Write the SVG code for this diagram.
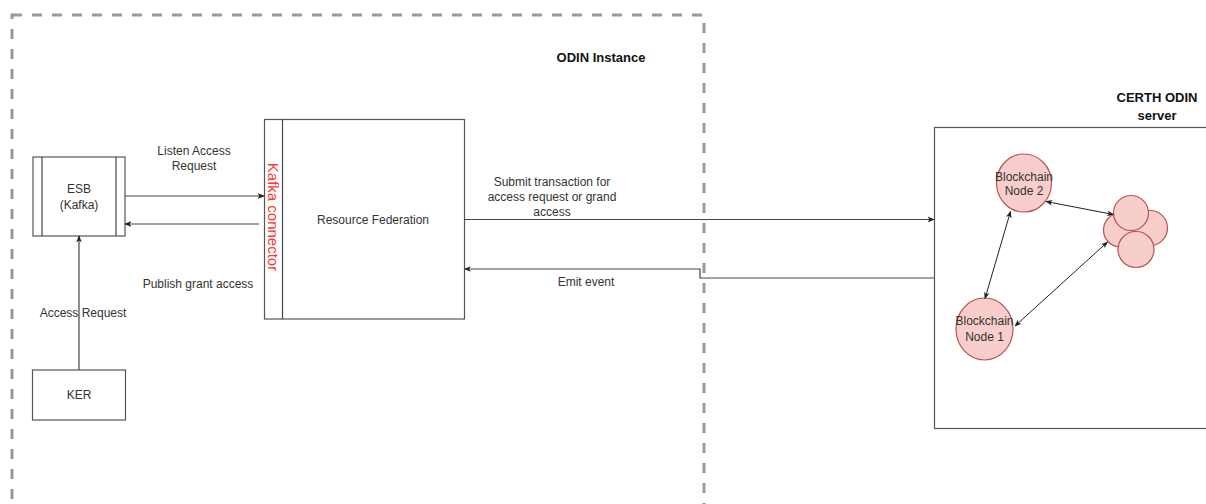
<svg xmlns="http://www.w3.org/2000/svg" width="1206" height="504" viewBox="0 0 1206 504">
  <defs>
    <marker id="arrow" viewBox="0 0 10 10" refX="9" refY="5" markerWidth="7" markerHeight="7" orient="auto-start-reverse" markerUnits="userSpaceOnUse">
      <path d="M0,1 L10,5 L0,9 L2.5,5 Z" fill="#222"/>
    </marker>
  </defs>
  <style>
    .bg { fill: #ffffff; }
    .box { fill: #ffffff; stroke: #555; stroke-width: 1.2; }
    .line { fill: none; stroke: #444; stroke-width: 1.2; }
    .link { fill: none; stroke: #222; stroke-width: 1; }
    .frame { fill: none; stroke: #999; stroke-width: 3; stroke-dasharray: 10 10; }
    .node { fill: #f8cecc; stroke: #b85450; stroke-width: 1.2; }
    .t { font-family: "Liberation Sans", Arial, sans-serif; font-size: 12px; fill: #333; text-anchor: middle; }
    .tb { font-family: "Liberation Sans", Arial, sans-serif; font-size: 13px; font-weight: bold; fill: #111; text-anchor: middle; }
    .red { font-family: "Liberation Sans", Arial, sans-serif; font-size: 15px; fill: #ff3333; text-anchor: middle; }
  </style>

  <rect class="bg" x="0" y="0" width="1206" height="504"/>

  <!-- ODIN instance boundary -->
  <g id="odin-instance">
    <rect class="frame" x="12" y="15" width="692" height="530"/>
    <text class="tb" x="601" y="62">ODIN Instance</text>
  </g>

  <!-- CERTH server -->
  <g id="certh-server">
    <rect class="box" x="934.5" y="127.5" width="290" height="301"/>
    <text class="tb" x="1157" y="102">CERTH ODIN</text>
    <text class="tb" x="1157" y="120">server</text>
  </g>

  <g id="esb">
    <rect class="box" x="33" y="157" width="92" height="79"/>
    <line class="line" x1="42" y1="157" x2="42" y2="236"/>
    <line class="line" x1="116" y1="157" x2="116" y2="236"/>
    <text class="t" x="79" y="193">ESB</text>
    <text class="t" x="79" y="209">(Kafka)</text>
  </g>

  <g id="ker">
    <rect class="box" x="32.5" y="370" width="93" height="50"/>
    <text class="t" x="79" y="399">KER</text>
  </g>

  <g id="resource-federation">
    <rect class="box" x="264.5" y="119.5" width="200" height="199.5"/>
    <line class="line" x1="282.5" y1="119.5" x2="282.5" y2="319"/>
    <text class="red" transform="translate(268 217) rotate(90)">Kafka connector</text>
    <text class="t" x="373" y="224">Resource Federation</text>
  </g>

  <g id="blockchain-node-2">
    <ellipse class="node" cx="1024" cy="183" rx="27.5" ry="29"/>
    <text class="t" x="1024" y="181">Blockchain</text>
    <text class="t" x="1024" y="195">Node 2</text>
  </g>

  <g id="blockchain-node-1">
    <ellipse class="node" cx="984.5" cy="329" rx="28.5" ry="31"/>
    <text class="t" x="984.5" y="325">Blockchain</text>
    <text class="t" x="984.5" y="341">Node 1</text>
  </g>

  <g id="blockchain-cluster">
    <circle class="node" cx="1120.5" cy="230" r="17"/>
    <circle class="node" cx="1150" cy="228" r="17.5"/>
    <circle class="node" cx="1131" cy="213" r="17.5"/>
    <circle class="node" cx="1136" cy="249.5" r="18"/>
  </g>

  <g id="connectors">
    <!-- ESB <-> Kafka connector -->
    <line class="line" x1="125" y1="196" x2="264" y2="196" marker-end="url(#arrow)"/>
    <line class="line" x1="259" y1="224" x2="125" y2="224" marker-end="url(#arrow)"/>
    <text class="t" x="194" y="155">Listen Access</text>
    <text class="t" x="194" y="170">Request</text>
    <text class="t" x="198" y="288">Publish grant access</text>

    <!-- KER -> ESB -->
    <line class="line" x1="79" y1="370" x2="79" y2="236" marker-end="url(#arrow)"/>
    <text class="t" x="83" y="317">Access Request</text>

    <!-- Resource Federation <-> CERTH -->
    <line class="line" x1="464.5" y1="219.5" x2="934" y2="219.5" marker-end="url(#arrow)"/>
    <text class="t" x="552" y="186">Submit transaction for</text>
    <text class="t" x="552" y="201">access request or grand</text>
    <text class="t" x="552" y="216">access</text>
    <path class="line" d="M934 278 H700 V269 H464.5" marker-end="url(#arrow)"/>
    <text class="t" x="586" y="286">Emit event</text>

    <!-- Blockchain peer links -->
    <line class="link" x1="1046" y1="201.5" x2="1113.5" y2="214.5" marker-start="url(#arrow)" marker-end="url(#arrow)"/>
    <line class="link" x1="1010.5" y1="211.5" x2="985" y2="298.5" marker-start="url(#arrow)" marker-end="url(#arrow)"/>
    <line class="link" x1="1015" y1="326" x2="1107.5" y2="242" marker-start="url(#arrow)" marker-end="url(#arrow)"/>
  </g>
</svg>
